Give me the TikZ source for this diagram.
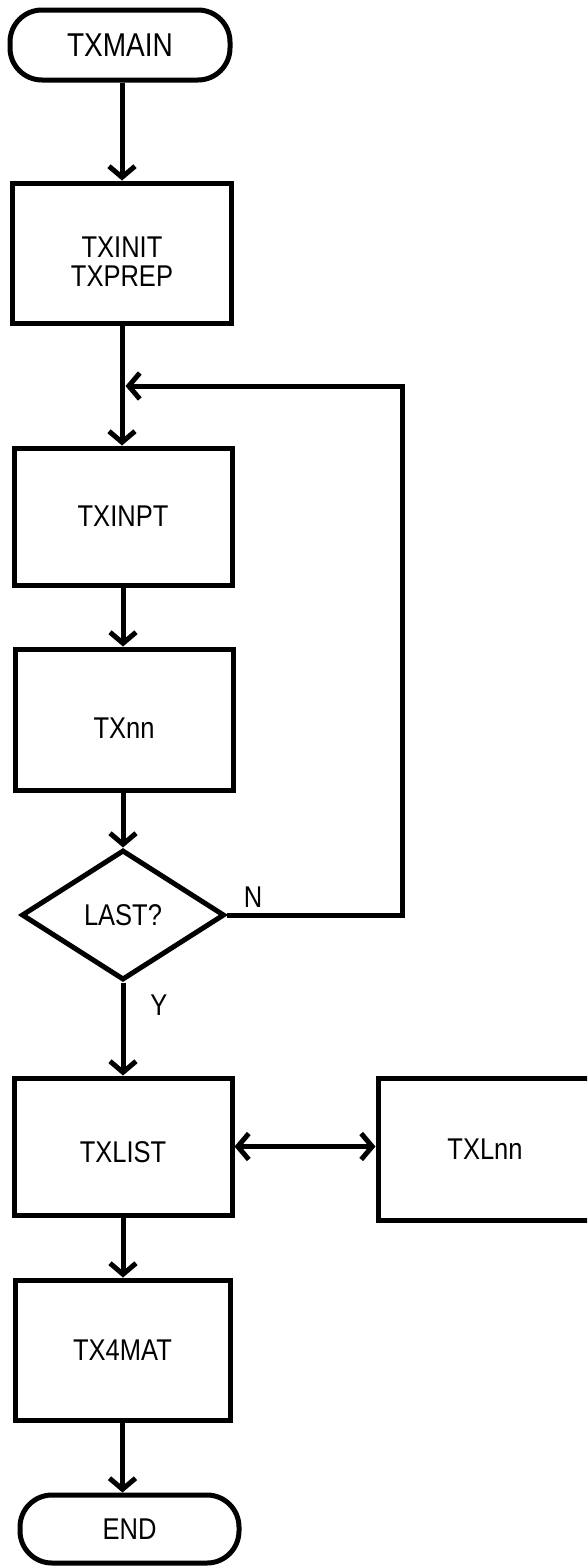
\documentclass[tikz,border=0pt]{standalone}
\usepackage{fontspec}
\setmainfont{Liberation Sans}[FakeStretch=0.85]
\usetikzlibrary{arrows.meta,shapes.geometric,calc}
\newcommand{\lowertext}[2]{\raisebox{#1}[\height][\depth]{#2}}
\begin{document}
\begin{tikzpicture}[x=1pt,y=-1pt,
  every node/.style={font=\fontsize{30}{27.5}\selectfont},
  stepbox/.style={draw, line width=5pt, minimum width=218pt, minimum height=140pt, inner sep=0pt, align=center},
  termbox/.style={draw, line width=5pt, rounded corners=32pt, minimum width=220pt, minimum height=70pt, inner sep=0pt},
  decbox/.style={draw, diamond, line width=5pt, minimum width=203pt, minimum height=130pt, inner sep=0pt},
  arr/.style={line width=5pt, -{Straight Barb[length=11pt,width=26pt]}},
  dblarr/.style={line width=5pt, {Straight Barb[length=11pt,width=26pt]}-{Straight Barb[length=11pt,width=26pt]}},
  lbl/.style={inner sep=0pt},
]
\clip (0,0) rectangle (587,1566);
\fill[white] (0,0) rectangle (587,1566);

\node[termbox, font=\fontsize{33}{30}\selectfont] (main) at (120,45) {TXMAIN};
\node[stepbox, minimum width=219pt] (init) at (122,253) {\lowertext{-13pt}{\begin{tabular}{@{}c@{}}TXINIT\\TXPREP\end{tabular}}};
\node[stepbox, minimum height=137pt] (inpt) at (123,516.5) {TXINPT};
\node[stepbox, minimum height=141pt] (nn) at (124,719.5) {\lowertext{-9pt}{TXnn}};
\node[decbox] (last) at (123,915) {LAST?};
\node[stepbox, minimum height=137pt] (list) at (123,1146.5) {\lowertext{-6pt}{TXLIST}};
\node[stepbox, minimum width=214pt, minimum height=142pt] (lnn) at (485,1149) {TXLnn};
\node[stepbox, minimum width=215pt] (fmat) at (122.5,1350) {TX4MAT};
\node[termbox, minimum width=219pt, minimum height=68pt] (endn) at (129.5,1529) {END};

\node[lbl] (lblN) at (253,897) {N};
\node[lbl] (lblY) at (159,1005) {Y};

\coordinate (jn) at (125.5,386);
\coordinate (loopB) at (402,915);
\coordinate (loopT) at (402,386);

\draw[arr] (main.south -| init.north) -- (init.north);
\draw[arr] (init.south) -- (init.south |- inpt.north);
\draw[arr] (inpt.south) -- (inpt.south |- nn.north);
\draw[arr] (nn.south -| last.north) -- (last.north);
\draw[arr] (last.south) -- (last.south |- list.north);
\draw[arr, line join=miter] (last.east) -- (loopB) -- (loopT) -- (jn);
\draw[dblarr] (list.east) -- (list.east -| lnn.west);
\draw[arr] (list.south) -- (list.south |- fmat.north);
\draw[arr] (fmat.south) -- (fmat.south |- endn.north);
\end{tikzpicture}
\end{document}
